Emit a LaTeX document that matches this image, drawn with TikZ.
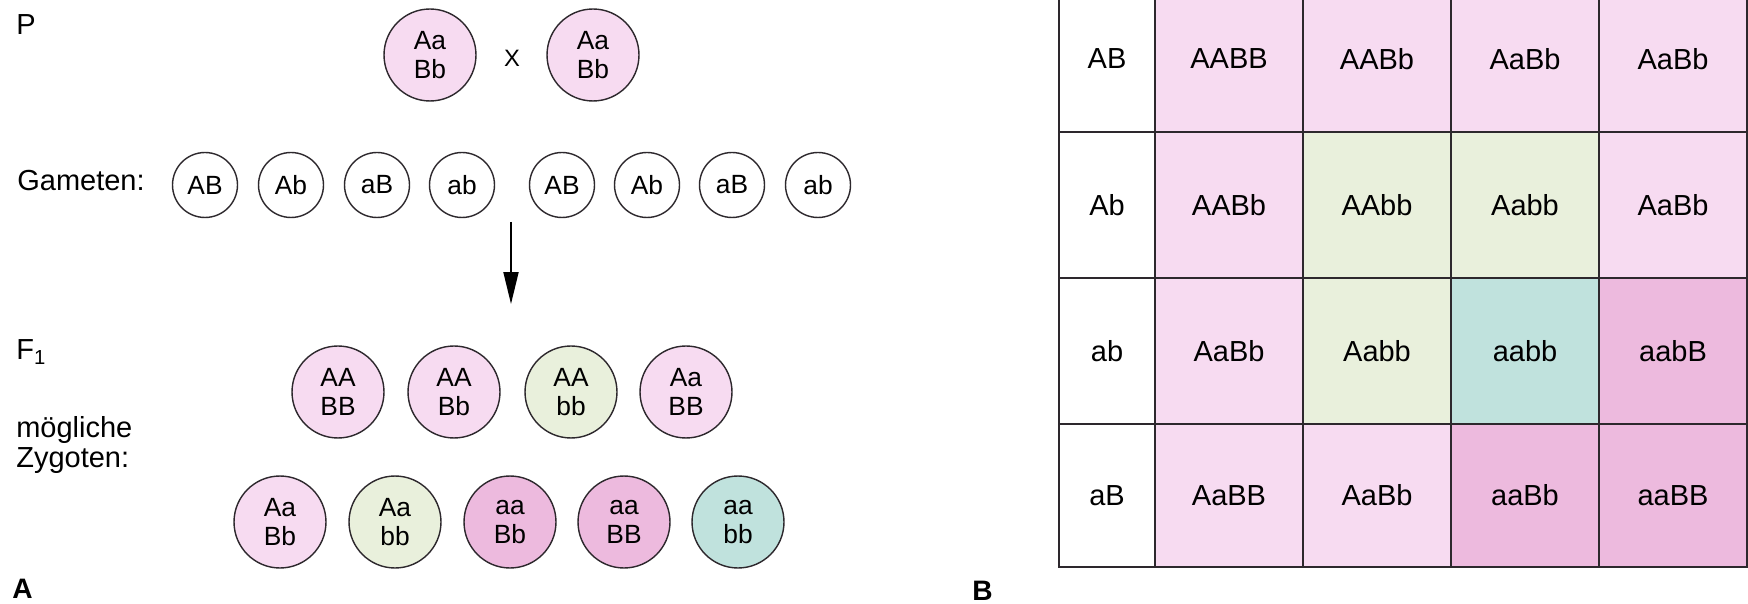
\documentclass[tikz,border=0pt]{standalone}
\usepackage{fontspec}
\setmainfont{Liberation Sans}
\usetikzlibrary{arrows.meta,shapes.geometric}
\definecolor{pinkL}{RGB}{247,219,241}
\definecolor{pinkD}{RGB}{237,186,222}
\definecolor{greenL}{RGB}{233,240,220}
\definecolor{tealL}{RGB}{192,226,221}
\definecolor{lineC}{RGB}{45,40,45}
\begin{document}
\begin{tikzpicture}[x=0.02cm,y=-0.02cm,
  lbl/.style={anchor=west, inner sep=0pt, font=\fontsize{16.5}{17.5}\selectfont},
  zyg/.style={circle, draw=lineC, line width=0.8pt, minimum size=1.84cm, inner sep=0pt,
              align=center, font=\fontsize{15}{16.5}\selectfont},
  gam/.style={circle, draw=lineC, line width=0.8pt, minimum size=1.3cm,
              inner sep=0pt, font=\fontsize{15}{16.5}\selectfont},
  cell/.style={rectangle, draw=lineC, line width=0.9pt, inner sep=0pt, outer sep=0pt,
               minimum width=2.96cm, minimum height=2.92cm, font=\fontsize{16.5}{18}\selectfont},
  hcell/.style={cell, fill=white, minimum width=1.92cm},
  panel/.style={inner sep=0pt, font=\fontsize{16}{18}\selectfont\bfseries}]
\useasboundingbox (0,0) rectangle (1748,604);
\clip (0,0) rectangle (1748,604);
\fill[white] (0,0) rectangle (1748,604);

% ---- Part A ----
\node[lbl] (P) at (16,25) {P};
\node[zyg, fill=pinkL] (p1) at (430,55) {Aa\\Bb};
\node[inner sep=0pt, font=\fontsize{13.5}{15}\selectfont] (cross) at (512,58) {X};
\node[zyg, fill=pinkL] (p2) at (593,55) {Aa\\Bb};

\node[lbl] (gam) at (17,181) {Gameten:};
\node[gam] (g1) at (205,185) {AB};
\node[gam] (g2) at (291,185) {Ab};
\node[gam] (g3) at (377,185) {aB};
\node[gam] (g4) at (462,185) {ab};
\node[gam] (g5) at (562,185) {AB};
\node[gam] (g6) at (647,185) {Ab};
\node[gam] (g7) at (732,185) {aB};
\node[gam] (g8) at (818,185) {ab};

\coordinate (arS) at (511,222);
\coordinate (arE) at (511,304);
\draw[line width=1.1pt, -{Triangle[length=0.64cm,width=0.3cm]}] (arS) -- (arE);

\node[lbl] (F1) at (16,352) {F\textsubscript{1}};
\node[lbl, align=left] (mz) at (16,445) {mögliche\\Zygoten:};

\node[zyg, fill=pinkL] (z1) at (338,392) {AA\\BB};
\node[zyg, fill=pinkL] (z2) at (454,392) {AA\\Bb};
\node[zyg, fill=greenL] (z3) at (571,392) {AA\\bb};
\node[zyg, fill=pinkL] (z4) at (686,392) {Aa\\BB};

\node[zyg, fill=pinkL] (z5) at (280,522) {Aa\\Bb};
\node[zyg, fill=greenL] (z6) at (395,522) {Aa\\bb};
\node[zyg, fill=pinkD] (z7) at (510,522) {aa\\Bb};
\node[zyg, fill=pinkD] (z8) at (624,522) {aa\\BB};
\node[zyg, fill=tealL] (z9) at (738,522) {aa\\bb};

\node[panel, anchor=base west] (labA) at (12,598) {A};

% ---- Part B ----
\node[hcell] (h1) at (1107,59) {AB};
\node[cell, fill=pinkL] (c11) at (1229,59) {AABB};
\node[cell, fill=pinkL] (c12) at (1377,59) {AABb};
\node[cell, fill=pinkL] (c13) at (1525,59) {AaBb};
\node[cell, fill=pinkL] (c14) at (1673,59) {AaBb};

\node[hcell] (h2) at (1107,205) {Ab};
\node[cell, fill=pinkL] (c21) at (1229,205) {AABb};
\node[cell, fill=greenL] (c22) at (1377,205) {AAbb};
\node[cell, fill=greenL] (c23) at (1525,205) {Aabb};
\node[cell, fill=pinkL] (c24) at (1673,205) {AaBb};

\node[hcell] (h3) at (1107,351) {ab};
\node[cell, fill=pinkL] (c31) at (1229,351) {AaBb};
\node[cell, fill=greenL] (c32) at (1377,351) {Aabb};
\node[cell, fill=tealL] (c33) at (1525,351) {aabb};
\node[cell, fill=pinkD] (c34) at (1673,351) {aabB};

\node[hcell, minimum height=2.86cm] (h4) at (1107,495.5) {aB};
\node[cell, fill=pinkL, minimum height=2.86cm] (c41) at (1229,495.5) {AaBB};
\node[cell, fill=pinkL, minimum height=2.86cm] (c42) at (1377,495.5) {AaBb};
\node[cell, fill=pinkD, minimum height=2.86cm] (c43) at (1525,495.5) {aaBb};
\node[cell, fill=pinkD, minimum height=2.86cm] (c44) at (1673,495.5) {aaBB};

\node[panel, anchor=base west] (labB) at (972,600) {B};
\end{tikzpicture}
\end{document}
